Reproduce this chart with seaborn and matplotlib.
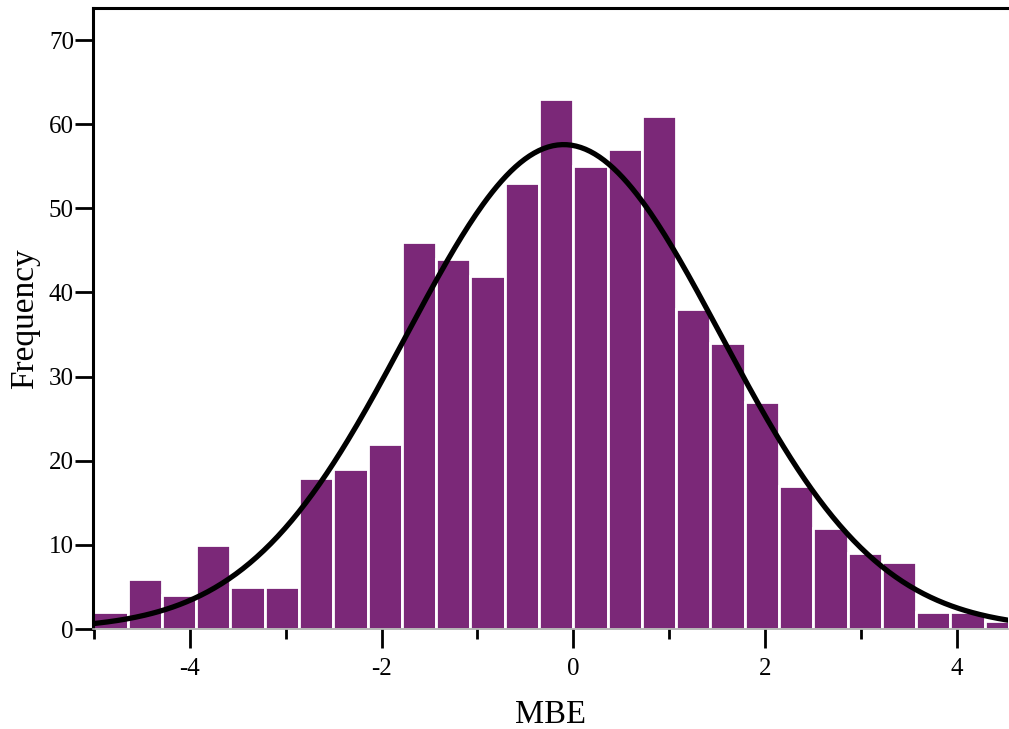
import numpy as np
import pandas as pd
import matplotlib
matplotlib.use('Agg')
import matplotlib.pyplot as plt
import seaborn as sns
from matplotlib.ticker import MultipleLocator

# histogram bin counts (bin width ~0.3575, first edge ~-5.0)
counts = [2, 6, 4, 10, 5, 5, 18, 19, 22, 46, 44, 42, 53, 63, 55, 57, 61,
          38, 34, 27, 17, 12, 9, 8, 2, 2, 1]
bin_width = 0.3575
first_edge = -14 * bin_width

# fitted normal curve parameters
fit_mean = -0.1
fit_sd = 1.64

n_bins = len(counts)
centers = first_edge + bin_width * (np.arange(n_bins) + 0.5)
df = pd.DataFrame({'MBE': centers, 'count': counts})

sns.set_style('white')
plt.rcParams['font.family'] = ['Liberation Serif', 'DejaVu Serif']
plt.rcParams['axes.unicode_minus'] = False
plt.rcParams['text.color'] = 'black'
plt.rcParams['axes.labelcolor'] = 'black'
plt.rcParams['xtick.color'] = 'black'
plt.rcParams['ytick.color'] = 'black'

fig = plt.figure(figsize=(10.09, 7.29), dpi=100)
ax = fig.add_axes([0.0925, 0.137, 0.9065, 0.852])

sns.histplot(data=df, x='MBE', weights='count', binwidth=bin_width,
             binrange=(first_edge, first_edge + n_bins * bin_width), ax=ax,
             color='#7b2878', alpha=1, edgecolor='white', linewidth=2)

xs = np.linspace(-5.1, 4.6, 400)
total = sum(counts) * bin_width
ys = total * np.exp(-0.5 * ((xs - fit_mean) / fit_sd) ** 2) / (fit_sd * np.sqrt(2 * np.pi))
sns.lineplot(x=xs, y=ys, ax=ax, color='black', linewidth=3.8)

ax.set_xlim(-5.005, 4.533)
ax.set_ylim(0, 73.8)
ax.xaxis.set_major_locator(MultipleLocator(2))
ax.xaxis.set_minor_locator(MultipleLocator(1))
ax.yaxis.set_major_locator(MultipleLocator(10))

for s in ['top', 'left']:
    ax.spines[s].set_linewidth(2.2)
    ax.spines[s].set_color('black')
ax.spines['right'].set_visible(False)
ax.spines['bottom'].set_color('#aaaaaa')
ax.spines['bottom'].set_linewidth(1.2)

ax.tick_params(axis='x', which='major', direction='out', length=14, width=2,
               labelsize=18, pad=7, bottom=True)
ax.tick_params(axis='x', which='minor', direction='out', length=7, width=2,
               bottom=True)
ax.tick_params(axis='y', which='major', direction='out', length=13, width=2,
               labelsize=18, pad=1, left=True)

ax.set_xlabel('MBE', fontsize=23.5, labelpad=14)
ax.set_ylabel('Frequency', fontsize=24, labelpad=6)

fig.savefig('out.png', dpi=100)
